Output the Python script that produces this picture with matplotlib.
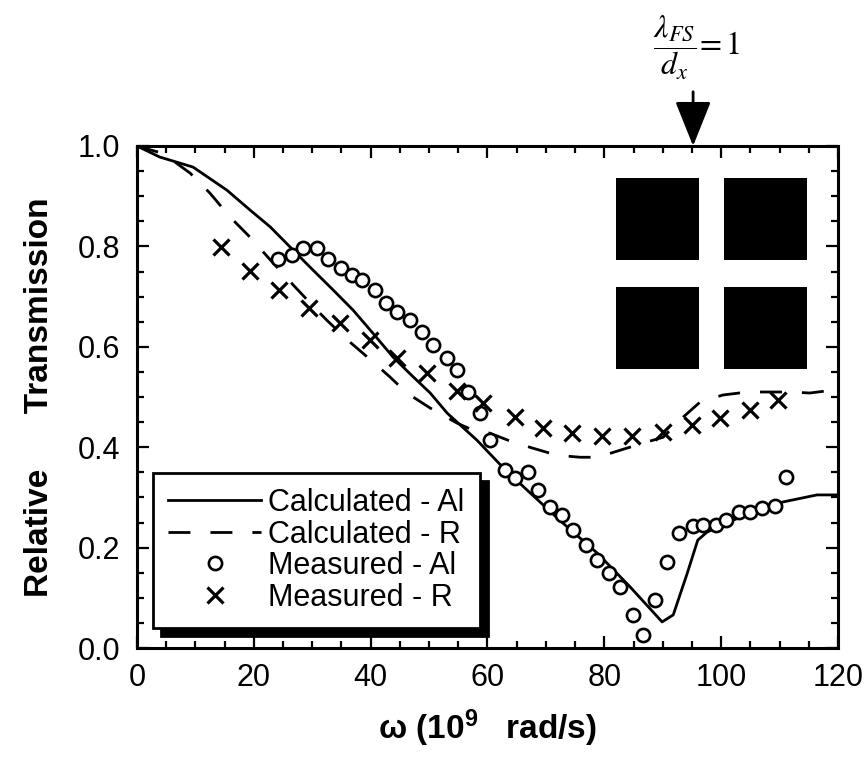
import matplotlib
matplotlib.use("Agg")
import matplotlib.pyplot as plt
from matplotlib.patches import Rectangle
from matplotlib.ticker import MultipleLocator

plt.rcParams['font.family'] = ['Liberation Sans', 'DejaVu Sans']
plt.rcParams['mathtext.fontset'] = 'custom'
plt.rcParams['mathtext.rm'] = 'Liberation Sans'
plt.rcParams['mathtext.bf'] = 'Liberation Sans:bold'
plt.rcParams['mathtext.it'] = 'Liberation Sans:italic'

# ---------------- data ----------------
calc_al_x = [0, 3.9, 9.6, 15.4, 19.3, 22.8, 26.2, 29.6, 33.6, 37.0, 40.4, 43.8, 47.3,
             50.2, 53.1, 58.2, 62.7, 67.3, 72.9, 78.8, 84.4, 89.9, 91.8, 94.2, 96.0,
             97.6, 102.1, 106.7, 110.6, 116.4, 120]
calc_al_y = [1.0, 0.978, 0.958, 0.912, 0.873, 0.839, 0.799, 0.759, 0.713, 0.673, 0.627,
             0.580, 0.540, 0.508, 0.468, 0.414, 0.359, 0.309, 0.249, 0.189, 0.122, 0.052,
             0.066, 0.149, 0.215, 0.231, 0.255, 0.275, 0.291, 0.305, 0.305]

calc_r_x = [0, 4.5, 9.1, 12.5, 15.9, 19.3, 23.3, 27.0, 30.8, 32.5, 36.0, 39.4, 43.3, 46.2,
            50.2, 54.8, 57.5, 60.4, 64.4, 67.8, 71.9, 75.9, 78.9, 82.7, 86.6, 90.1, 93.5,
            96.4, 100.3, 104.5, 108.9, 111.8, 115.2, 120]
calc_r_y = [1.0, 0.985, 0.946, 0.906, 0.859, 0.819, 0.767, 0.720, 0.673, 0.653, 0.614,
            0.580, 0.540, 0.508, 0.478, 0.448, 0.434, 0.428, 0.410, 0.398, 0.384, 0.380,
            0.380, 0.394, 0.408, 0.420, 0.460, 0.490, 0.504, 0.510, 0.510, 0.510, 0.508,
            0.515]

meas_al_x = [24.1, 26.5, 28.4, 30.8, 32.7, 34.9, 36.8, 38.5, 40.8, 42.6, 44.5, 46.7, 48.8,
             50.7, 53.1, 54.8, 56.7, 58.7, 60.4, 63.0, 64.7, 67.0, 68.7, 70.7, 72.8, 74.7,
             76.9, 78.8, 80.8, 82.7, 84.9, 86.6, 88.7, 90.8, 92.8, 95.2, 96.9, 99.1, 100.9,
             103.1, 105.0, 107.0, 109.2, 111.1]
meas_al_y = [0.775, 0.783, 0.797, 0.797, 0.775, 0.757, 0.743, 0.733, 0.713, 0.687, 0.669,
             0.653, 0.629, 0.604, 0.578, 0.554, 0.510, 0.468, 0.414, 0.355, 0.339, 0.351,
             0.315, 0.281, 0.265, 0.235, 0.205, 0.175, 0.149, 0.122, 0.066, 0.026, 0.096,
             0.171, 0.229, 0.243, 0.245, 0.245, 0.255, 0.271, 0.271, 0.279, 0.283, 0.341]

meas_r_x = [14.4, 19.3, 24.3, 29.5, 34.8, 39.9, 44.5, 49.7, 54.8, 59.2, 64.7, 69.5, 74.5,
            79.6, 84.8, 90.1, 95.0, 99.8, 105.0, 109.8]
meas_r_y = [0.799, 0.751, 0.713, 0.677, 0.647, 0.614, 0.578, 0.548, 0.512, 0.488, 0.460,
            0.438, 0.428, 0.422, 0.422, 0.430, 0.444, 0.458, 0.474, 0.494]

series_labels = ['Calculated - Al', 'Calculated - R', 'Measured - Al', 'Measured - R']
x_ticks = [0, 20, 40, 60, 80, 100, 120]
y_ticks = [0.0, 0.2, 0.4, 0.6, 0.8, 1.0]
marker_x = 95.2  # lambda_FS / d_x = 1

# ---------------- figure ----------------
fig = plt.figure(figsize=(8.68, 7.66), dpi=100)
ax = fig.add_axes([0.1578, 0.1540, 0.8076, 0.6554])

ax.plot(calc_al_x, calc_al_y, color='k', lw=2.0, label=series_labels[0], zorder=3)
ax.plot(calc_r_x, calc_r_y, color='k', lw=2.0, linestyle=(0, (7.9, 7.2)),
        label=series_labels[1], zorder=3)
ax.plot(meas_al_x, meas_al_y, ls='none', marker='o', ms=9.5, mfc='white', mec='k',
        mew=1.9, label=series_labels[2], zorder=4)
ax.plot(meas_r_x, meas_r_y, ls='none', marker='x', ms=11, mec='k', mew=2.3,
        label=series_labels[3], zorder=4)

ax.set_xlim(0, 120)
ax.set_ylim(0, 1.0)
ax.set_xticks(x_ticks)
ax.set_xticklabels([f'{v:d}' for v in x_ticks])
ax.set_yticks(y_ticks)
ax.set_yticklabels([f'{v:.1f}' for v in y_ticks])
ax.xaxis.set_minor_locator(MultipleLocator(5))
ax.yaxis.set_minor_locator(MultipleLocator(0.05))
ax.tick_params(which='both', direction='in', top=True, right=True, width=1.6)
ax.tick_params(which='major', length=8.5, labelsize=22)
ax.tick_params(which='minor', length=5)
ax.tick_params(axis='x', which='major', pad=11)
ax.tick_params(axis='y', which='major', pad=12)
for s in ax.spines.values():
    s.set_linewidth(2.2)

ax.set_xlabel('ω (10$^{\\mathbf{9}}$   rad/s)', fontsize=24, fontweight='bold',
              labelpad=10)
ax.set_ylabel('Relative      Transmission', fontsize=24, fontweight='bold', labelpad=16)

# inset illustration: 2x2 black squares
for (x0, y0) in [(0.683, 0.773), (0.837, 0.773), (0.683, 0.556), (0.837, 0.556)]:
    ax.add_patch(Rectangle((x0, y0), 0.119, 0.164, transform=ax.transAxes,
                           facecolor='black', edgecolor='none', zorder=2))

# arrow + annotation
ax.annotate('', xy=(marker_x, 1.0), xytext=(marker_x, 1.108),
            arrowprops=dict(arrowstyle='-|>,head_length=1.0,head_width=0.4',
                            color='k', lw=2, shrinkA=0, shrinkB=0, mutation_scale=28),
            annotation_clip=False)
fig.text(0.803, 0.937, r'$\dfrac{\lambda_{FS}}{d_x}\!=1$', ha='center', va='center',
         fontsize=23, math_fontfamily='stix')

leg = ax.legend(loc='lower left', bbox_to_anchor=(0.0228, 0.040), borderaxespad=0,
                fontsize=22, frameon=True, fancybox=False, edgecolor='k',
                framealpha=1, handlelength=3.04, handletextpad=0.23,
                labelspacing=0.05, borderpad=0.5,
                shadow={'ox': 6, 'oy': -6, 'facecolor': 'k', 'edgecolor': 'k',
                        'alpha': 1})
leg.get_frame().set_linewidth(2.0)
leg.set_zorder(5)

fig.savefig('out.png', dpi=100)
